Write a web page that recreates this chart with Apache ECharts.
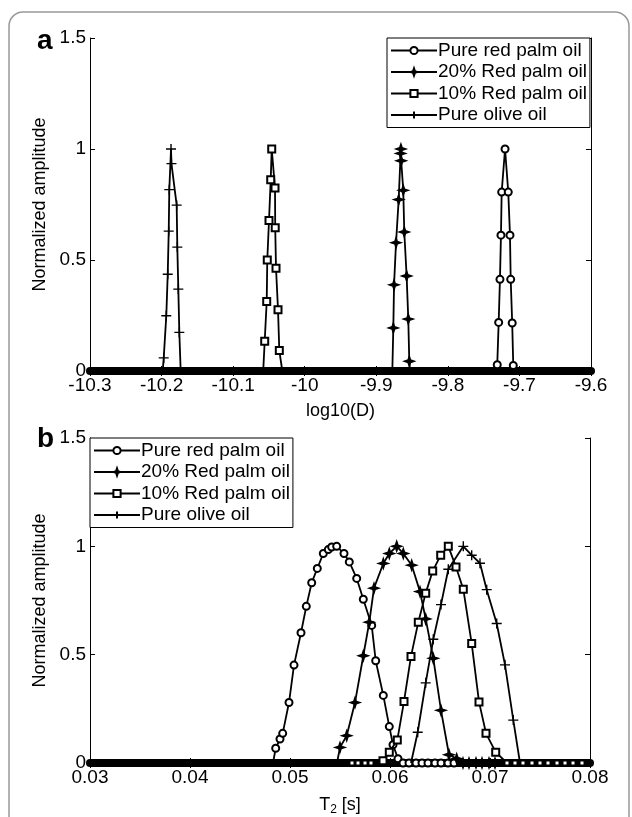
<!DOCTYPE html>
<html><head><meta charset="utf-8">
<script src="https://cdn.jsdelivr.net/npm/echarts@6/dist/echarts.min.js"></script>
<style>html,body{margin:0;padding:0;background:#fff}#c{width:632px;height:817px}</style>
</head><body><div id="c"></div>
<script>
// ---------- data ----------
const seriesNames = ['Pure red palm oil', '20% Red palm oil', '10% Red palm oil', 'Pure olive oil'];

// panel a : log10(D)
const aXTicks = ['-10.3','-10.2','-10.1','-10','-9.9','-9.8','-9.7','-9.6'];
const aYTicks = ['0','0.5','1','1.5'];
const aRedPalm = [[-9.7310,0.028],[-9.7290,0.219],[-9.7272,0.413],[-9.7258,0.612],[-9.7248,0.806],[-9.7201,1.0],[-9.7156,0.806],[-9.7132,0.612],[-9.7122,0.413],[-9.7101,0.216],[-9.7086,0.025]];
const aRedPalmBase = [-9.7327, -9.7076];
const a20 = [[-9.8762,0.194],[-9.8752,0.388],[-9.8724,0.578],[-9.8687,0.772],[-9.8660,0.98],[-9.8656,1.0],[-9.8652,0.947],[-9.8623,0.814],[-9.8609,0.626],[-9.8576,0.428],[-9.8553,0.234],[-9.8539,0.044]];
const a20Base = [-9.8776, -9.8529];
const a10 = [[-10.0559,0.134],[-10.0531,0.313],[-10.0523,0.50],[-10.0499,0.678],[-10.0475,0.862],[-10.0461,1.0],[-10.0415,0.824],[-10.0412,0.645],[-10.0401,0.463],[-10.0373,0.276],[-10.0355,0.092]];
const a10Base = [-10.0580, -10.0313];
const aOlive = [[-10.1970,0.059],[-10.1934,0.249],[-10.1914,0.436],[-10.1900,0.63],[-10.1892,0.817],[-10.1868,1.0],[-10.1862,0.934],[-10.1789,0.747],[-10.1780,0.558],[-10.1766,0.369],[-10.1752,0.174]];
const aOliveBase = [-10.1984, -10.1733];

// panel b : T2 [s]
const bXTicks = ['0.03','0.04','0.05','0.06','0.07','0.08'];
const bYTicks = ['0','0.5','1','1.5'];
const bRedPalm = [[0.04857,0.068],[0.0490,0.111],[0.04927,0.137],[0.0499,0.279],[0.0504,0.452],[0.0511,0.601],[0.05163,0.723],[0.05217,0.832],[0.05273,0.898],[0.05333,0.967],[0.05383,0.985],[0.05417,0.997],[0.05467,1.0],[0.0554,0.967],[0.05593,0.928],[0.05667,0.852],[0.05733,0.756],[0.05817,0.635],[0.05857,0.472],[0.05933,0.312],[0.05993,0.168],[0.0603,0.084],[0.0608,0.02],[0.0613,0],[0.0619,0],[0.0626,0],[0.0632,0],[0.0638,0],[0.0645,0],[0.0651,0],[0.0658,0],[0.0664,0]];
const bRedPalmBase = [0.0483, 0.0668];
const b20 = [[0.0550,0.072],[0.05567,0.126],[0.0565,0.279],[0.05733,0.495],[0.05793,0.650],[0.0584,0.807],[0.05933,0.921],[0.05993,0.967],[0.06067,1.0],[0.06133,0.967],[0.06217,0.913],[0.063,0.791],[0.06357,0.665],[0.06433,0.483],[0.0651,0.243],[0.0659,0.038],[0.06667,0.02],[0.0673,0],[0.0679,0],[0.0686,0],[0.0692,0],[0.0699,0],[0.0705,0]];
const b20Base = [0.0547, 0.0708];
const b10 = [[0.0562,0],[0.0568,0],[0.0575,0],[0.0581,0],[0.0593,0.01],[0.05993,0.05],[0.06073,0.106],[0.0614,0.284],[0.0621,0.492],[0.06283,0.65],[0.06357,0.784],[0.06427,0.886],[0.06507,0.959],[0.06583,1.0],[0.0666,0.905],[0.06733,0.802],[0.06817,0.551],[0.0689,0.282],[0.0696,0.137],[0.07057,0.05],[0.0717,0],[0.0725,0],[0.0733,0],[0.0742,0],[0.0750,0],[0.0758,0],[0.0767,0],[0.0775,0],[0.0783,0],[0.0792,0]];
const b10Base = [0.0558, 0.0795];
const bOlive = [[0.06277,0.142],[0.06357,0.37],[0.06433,0.571],[0.0651,0.731],[0.06583,0.894],[0.06733,1.0],[0.06817,0.959],[0.069,0.922],[0.06967,0.80],[0.07067,0.644],[0.0715,0.453],[0.07233,0.198]];
const bOliveBase = [0.0621, 0.0730];

// ---------- styles ----------
const FONT = 'Liberation Sans, Arial, sans-serif';
const STAR = 'path://M0,-10 L2.5,-2.5 L10,0 L2.5,2.5 L0,10 L-2.5,2.5 L-10,0 L-2.5,-2.5 Z';
const PLUS = 'path://M-10,0 L10,0 M0,-10 L0,10';
const markers = [
  {symbol:'emptyCircle', size:7, zeroSize:7},
  {symbol:STAR, size:10, zeroSize:10},
  {symbol:'emptyRect', size:7, zeroSize:5},
  {symbol:PLUS, size:10, zeroSize:10}
];

function buildSeries(points, base, idx, gi) {
  const m = markers[idx];
  const data = [{value:[base[0],0], symbol:'none'}]
    .concat(points.map(p => p[1] === 0 ? {value:p, symbolSize:m.zeroSize} : {value:p}))
    .concat([{value:[base[1],0], symbol:'none'}]);
  return {
    type:'line', name:seriesNames[idx], xAxisIndex:gi*2, yAxisIndex:gi*2,
    data:data, symbol:m.symbol, symbolSize:m.size, showAllSymbol:true,
    animation:false, clip:true, z:3+idx,
    lineStyle:{color:'#000', width:1.8},
    itemStyle:{color:'#000', borderColor:'#000', borderWidth:1.4}
  };
}

function xAxes(gi, min, max, interval, labels, name, nameRich) {
  return [{
    type:'value', gridIndex:gi, position:'bottom', min:min, max:max, interval:interval,
    axisLine:{lineStyle:{color:'#000', width:8}},
    axisTick:{inside:true, length:5, lineStyle:{color:'#000'}},
    axisLabel:{color:'#000', fontFamily:FONT, fontSize:19, margin:5,
      formatter:(v,i)=>labels[i]},
    splitLine:{show:false},
    name:name, nameLocation:'middle', nameGap:31,
    nameTextStyle:{color:'#000', fontFamily:FONT, fontSize:18, rich:nameRich}
  },{
    type:'value', gridIndex:gi, position:'top', min:min, max:max, interval:interval,
    axisLine:{lineStyle:{color:'#000', width:1}},
    axisTick:{inside:true, length:5, lineStyle:{color:'#000'}},
    axisLabel:{show:false}, splitLine:{show:false}
  }];
}
function yAxes(gi, labels) {
  return [{
    type:'value', gridIndex:gi, position:'left', min:0, max:1.5, interval:0.5,
    axisLine:{lineStyle:{color:'#000', width:1}},
    axisTick:{inside:true, length:5, lineStyle:{color:'#000'}},
    axisLabel:{color:'#000', fontFamily:FONT, fontSize:19, margin:4, formatter:(v,i)=>labels[i]},
    splitLine:{show:false},
    name:'Normalized amplitude', nameLocation:'middle', nameGap:34,
    nameTextStyle:{color:'#000', fontFamily:FONT, fontSize:18}
  },{
    type:'value', gridIndex:gi, position:'right', min:0, max:1.5, interval:0.5,
    axisLine:{lineStyle:{color:'#000', width:1}},
    axisTick:{inside:true, length:5, lineStyle:{color:'#000'}},
    axisLabel:{show:false}, splitLine:{show:false}
  }];
}

const legendBase = {
  orient:'vertical', selectedMode:false, backgroundColor:'#fff',
  borderColor:'#000', borderWidth:1, itemWidth:46, itemHeight:9, itemGap:2.5,
  padding:[3,3,3,3],
  textStyle:{color:'#000', fontFamily:FONT, fontSize:19, padding:[0,0,0,-4]},
  data:seriesNames
};

const chart = echarts.init(document.getElementById('c'), null, {renderer:'canvas'});
chart.setOption({
  backgroundColor:'#fff',
  animation:false,
  grid:[
    {left:90, right:41, top:38, height:333},
    {left:90, right:42, top:438, height:327}
  ],
  xAxis:[].concat(
    xAxes(0, -10.3, -9.6, 0.1, aXTicks, 'log10(D)', {}),
    xAxes(1, 0.03, 0.08, 0.01, bXTicks, 'T{sub|2} [s]', {sub:{fontSize:12, fontFamily:FONT, color:'#000', verticalAlign:'bottom', padding:[10,0,0,0]}})
  ),
  yAxis:[].concat(yAxes(0, aYTicks), yAxes(1, bYTicks)),
  legend:[
    Object.assign({}, legendBase, {left:387, top:38, z:10}),
    Object.assign({}, legendBase, {left:90, top:438, z:10})
  ],
  series:[
    buildSeries(aRedPalm, aRedPalmBase, 0, 0),
    buildSeries(a20, a20Base, 1, 0),
    buildSeries(a10, a10Base, 2, 0),
    buildSeries(aOlive, aOliveBase, 3, 0),
    buildSeries(bRedPalm, bRedPalmBase, 0, 1),
    buildSeries(b20, b20Base, 1, 1),
    buildSeries(b10, b10Base, 2, 1),
    buildSeries(bOlive, bOliveBase, 3, 1)
  ],
  graphic:[
    {type:'rect', shape:{x:9, y:12, width:620, height:860, r:14}, style:{fill:'none', stroke:'#999', lineWidth:1.5}, z:-1},
    {type:'text', left:37, top:27, style:{text:'a', fontFamily:FONT, fontWeight:'bold', fontSize:28, fill:'#000'}},
    {type:'text', left:37, top:425, style:{text:'b', fontFamily:FONT, fontWeight:'bold', fontSize:28, fill:'#000'}}
  ]
});
</script>
</body></html>
